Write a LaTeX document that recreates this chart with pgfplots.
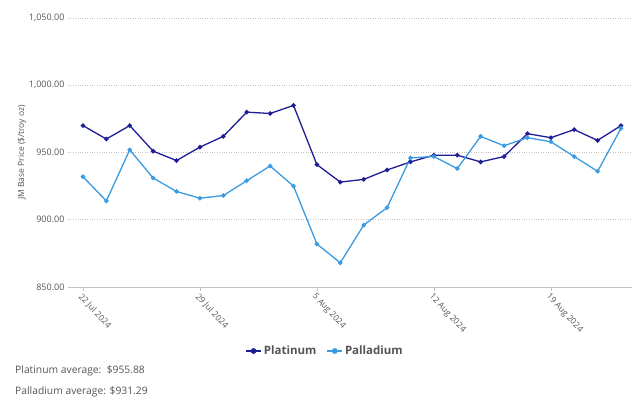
\documentclass[border=0pt]{standalone}
\usepackage{pgfplots}
\pgfplotsset{compat=1.18}
\usepackage{fontspec}
\setmainfont{Open Sans}
\definecolor{plat}{RGB}{30,30,150}
\definecolor{pall}{RGB}{58,155,225}
\definecolor{txt}{RGB}{85,85,85}
\definecolor{gridc}{RGB}{195,195,195}

\begin{document}
\begin{tikzpicture}[x=1pt,y=1pt]
\useasboundingbox (0,0) rectangle (640,403);
\begin{axis}[
    at={(68pt,116pt)}, anchor=south west,
    scale only axis,
    width=564pt, height=269pt,
    xmin=-0.64, xmax=23.47,
    ymin=850, ymax=1050,
    ytick={850,900,950,1000,1050},
    xtick={0,5,10,15,20},
    xticklabels={22 Jul 2024, 29 Jul 2024, 5 Aug 2024, 12 Aug 2024, 19 Aug 2024},
    axis x line*=bottom,
    axis y line*=left,
    y axis line style={draw=none},
    x axis line style={draw=gridc, line width=0.8pt, -},
    ytick style={draw=none},
    xtick style={draw=gridc, line width=0.6pt},
    tick align=outside,
    major tick length=4pt,
    ymajorgrids=true,
    grid style={gridc, dotted, line width=0.6pt},
    /pgf/number format/assume math mode=true,
    yticklabel={\pgfmathprintnumber[fixed, fixed zerofill, precision=2, 1000 sep={,}]{\tick}},
    yticklabel style={font=\fontsize{9}{10}\selectfont, text=txt, xshift=4pt},
    xticklabel style={font=\fontsize{8.5}{10}\selectfont, text=txt, rotate=-47, anchor=north west, inner sep=1pt},
    ylabel={JM Base Price (\$/troy oz)},
    ylabel style={font=\fontsize{8.5}{10}\selectfont, text=txt, at={(axis description cs:-0.0816,0.5)}, anchor=center},
    legend style={draw=none, at={(axis description cs:0.4557,-0.238)}, anchor=center,
        font=\fontsize{11.5}{13}\selectfont\bfseries, text=txt, legend columns=2,
        /tikz/every even column/.append style={column sep=8pt}},
    legend image code/.code={
        \draw[#1, line width=1.6pt] (0pt,0pt) -- (15pt,0pt);
        \fill[#1] (7.5pt,0pt) circle (2.2pt);
    },
]
\addplot[plat, line width=1.3pt, mark=*, mark size=1.6pt] coordinates {
(0,970) (1,960) (2,970) (3,951) (4,944) (5,954) (6,962) (7,980) (8,979) (9,985)
(10,941) (11,928) (12,930) (13,937) (14,943) (15,948) (16,948) (17,943) (18,947)
(19,964) (20,961) (21,967) (22,959) (23,970)
};
\addplot[pall, line width=1.3pt, mark=*, mark size=1.6pt] coordinates {
(0,932) (1,914) (2,952) (3,931) (4,921) (5,916) (6,918) (7,929) (8,940) (9,925)
(10,882) (11,868) (12,896) (13,909) (14,946) (15,947) (16,938) (17,962) (18,955)
(19,961) (20,958) (21,947) (22,936) (23,968)
};
\legend{Platinum, Palladium}
\end{axis}
\node[anchor=west, text=txt, font=\fontsize{10.3}{12}\selectfont, inner sep=0pt] at (15,32) {Platinum average:\ \ \$955.88};
\node[anchor=west, text=txt, font=\fontsize{10.3}{12}\selectfont, inner sep=0pt] at (15,11) {Palladium average: \$931.29};
\end{tikzpicture}
\end{document}
